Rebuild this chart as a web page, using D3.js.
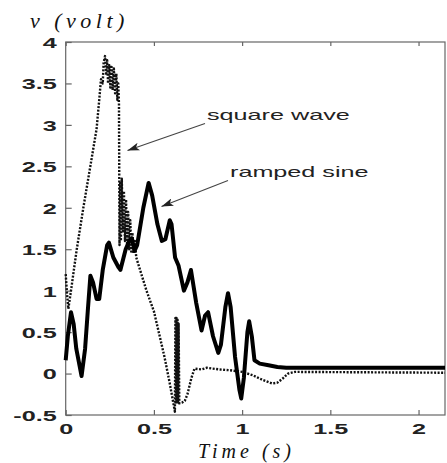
<!DOCTYPE html>
<html>
<head>
<meta charset="utf-8">
<script src="https://cdn.jsdelivr.net/npm/d3@7/dist/d3.min.js"></script>
<style>
html,body{margin:0;padding:0;background:#fff;}
svg{display:block;}
</style>
</head>
<body>
<svg id="chart" width="447" height="463"></svg>
<script>
// ---- data ----
const xTicks = [0, 0.5, 1, 1.5, 2];
const xTickLabels = ["0", "0.5", "1", "1.5", "2"];
const yTicks = [-0.5, 0, 0.5, 1, 1.5, 2, 2.5, 3, 3.5, 4];
const yTickLabels = ["-0.5", "0", "0.5", "1", "1.5", "2", "2.5", "3", "3.5", "4"];

// ramped sine (solid, thick)
const sineT = [0, 0.012, 0.03, 0.045, 0.06, 0.09, 0.11, 0.125, 0.14, 0.155, 0.175, 0.19, 0.21, 0.235, 0.245, 0.27, 0.3, 0.31, 0.34, 0.36, 0.375, 0.39, 0.405, 0.44, 0.47, 0.49, 0.52, 0.545, 0.565, 0.59, 0.6, 0.62, 0.64, 0.67, 0.69, 0.71, 0.74, 0.77, 0.79, 0.807, 0.835, 0.865, 0.88, 0.905, 0.92, 0.935, 0.96, 0.985, 0.995, 1.01, 1.03, 1.04, 1.055, 1.07, 1.1, 1.15, 1.2, 1.25, 2.15];
const sineV = [0.16, 0.45, 0.74, 0.6, 0.3, -0.03, 0.3, 0.75, 1.18, 1.1, 0.9, 0.9, 1.25, 1.55, 1.58, 1.4, 1.28, 1.25, 1.5, 1.6, 1.63, 1.48, 1.55, 2.0, 2.3, 2.15, 1.8, 1.6, 1.62, 1.85, 1.8, 1.4, 1.3, 1.0, 1.1, 1.25, 0.85, 0.52, 0.7, 0.74, 0.45, 0.25, 0.35, 0.8, 0.97, 0.8, 0.2, -0.2, -0.3, -0.05, 0.5, 0.63, 0.45, 0.16, 0.12, 0.1, 0.08, 0.07, 0.07];

// square wave (dotted)
const squareT = [0, 0.008, 0.015, 0.03, 0.062, 0.1, 0.138, 0.175, 0.19, 0.2, 0.21, 0.215, 0.223, 0.23, 0.235, 0.24, 0.247, 0.253, 0.26, 0.266, 0.273, 0.28, 0.287, 0.293, 0.298, 0.302, 0.305, 0.309, 0.313, 0.318, 0.324, 0.33, 0.336, 0.342, 0.348, 0.354, 0.36, 0.366, 0.372, 0.378, 0.385, 0.392, 0.4, 0.41, 0.458, 0.5, 0.534, 0.56, 0.59, 0.619, 0.622, 0.625, 0.628, 0.631, 0.634, 0.637, 0.64, 0.644, 0.66, 0.675, 0.69, 0.713, 0.73, 0.77, 0.8, 0.83, 0.87, 0.93, 1.0, 1.06, 1.12, 1.17, 1.2, 1.23, 1.26, 1.3, 2.15];
const squareV = [1.2, 0.95, 0.78, 1.0, 1.49, 2.0, 2.48, 2.95, 3.3, 3.55, 3.5, 3.75, 3.83, 3.6, 3.78, 3.5, 3.72, 3.45, 3.7, 3.42, 3.68, 3.38, 3.62, 3.3, 3.5, 3.25, 1.55, 2.3, 1.6, 2.35, 1.7, 2.2, 1.6, 2.1, 1.55, 1.95, 1.5, 1.85, 1.45, 1.7, 1.45, 1.6, 1.4, 1.33, 1.0, 0.75, 0.44, 0.2, -0.12, -0.46, 0.67, -0.35, 0.67, -0.35, 0.65, -0.35, 0.6, -0.36, -0.35, -0.33, -0.25, -0.05, 0.06, 0.05, 0.07, 0.06, 0.05, 0.04, 0.02, -0.02, -0.08, -0.12, -0.11, -0.06, 0.0, 0.02, 0.01];

const annoLabels = ["square wave", "ramped sine"];
const yTitle = "v (volt)";
const xTitle = "Time (s)";

// ---- layout ----
const svg = d3.select("#chart");
const L = 65.7, R = 445, T = 42, B = 415;
const x = d3.scaleLinear().domain([0, 2.15]).range([L, R]);
const y = d3.scaleLinear().domain([-0.5, 4]).range([B, T]);
const SX = 1.68;
const tickFont = "'Liberation Sans', Arial, sans-serif";

// frame
svg.append("rect").attr("x", L).attr("y", T).attr("width", R - L).attr("height", B - T)
  .attr("fill", "none").attr("stroke", "#666").attr("stroke-width", 1.2);

// bottom axis
const gx = svg.append("g").attr("transform", `translate(0,${B})`)
  .call(d3.axisBottom(x).tickValues(xTicks).tickSizeInner(-5).tickSizeOuter(0).tickFormat((d, i) => xTickLabels[i]));
gx.select(".domain").remove();
gx.selectAll("line").attr("stroke", "#666").attr("stroke-width", 1.2);
gx.selectAll("text").attr("y", 19).attr("dy", 0)
  .attr("transform", `scale(${SX},1)`)
  .style("font-family", tickFont).style("font-size", "15px").style("font-weight", "bold").attr("fill", "#222");

// top ticks
const gt = svg.append("g").attr("transform", `translate(0,${T})`)
  .call(d3.axisTop(x).tickValues(xTicks).tickSizeInner(-4).tickSizeOuter(0).tickFormat(""));
gt.select(".domain").remove();
gt.selectAll("line").attr("stroke", "#666").attr("stroke-width", 1.2);

// left axis
const gy = svg.append("g").attr("transform", `translate(${L},0)`)
  .call(d3.axisLeft(y).tickValues(yTicks).tickSizeInner(-6).tickSizeOuter(0).tickFormat((d, i) => yTickLabels[i]));
gy.select(".domain").remove();
gy.selectAll("line").attr("stroke", "#666").attr("stroke-width", 1.2);
gy.selectAll("text").attr("x", -9 / SX).attr("dy", "0.36em").attr("text-anchor", "end")
  .attr("transform", `scale(${SX},1)`)
  .style("font-family", tickFont).style("font-size", "15px").style("font-weight", "bold").attr("fill", "#222");

// lines
const sineData = sineT.map((t, i) => [t, sineV[i]]);
const squareData = squareT.map((t, i) => [t, squareV[i]]);
const line = d3.line().x(d => x(d[0])).y(d => y(d[1]));

svg.append("path").datum(squareData).attr("d", line)
  .attr("fill", "none").attr("stroke", "#111").attr("stroke-width", 2.4)
  .attr("stroke-dasharray", "2,1.5").attr("stroke-linejoin", "round");

svg.append("path").datum(sineData).attr("d", line)
  .attr("fill", "none").attr("stroke", "#000").attr("stroke-width", 4)
  .attr("stroke-linejoin", "round");

// annotations
const defs = svg.append("defs");
defs.append("marker").attr("id", "ah").attr("viewBox", "0 0 12 8").attr("refX", 12).attr("refY", 4)
  .attr("markerWidth", 12).attr("markerHeight", 8).attr("markerUnits", "userSpaceOnUse").attr("orient", "auto")
  .append("path").attr("d", "M0,0 L12,4 L0,8 L3,4 Z").attr("fill", "#222");

const annos = [
  {label: annoLabels[0], tx: 207, ty: 120, x1: 205, y1: 123.5, x2: 127.5, y2: 150.5},
  {label: annoLabels[1], tx: 230, ty: 177, x1: 228, y1: 180.5, x2: 161.5, y2: 206.5}
];
annos.forEach(a => {
  svg.append("line").attr("x1", a.x1).attr("y1", a.y1).attr("x2", a.x2).attr("y2", a.y2)
    .attr("stroke", "#444").attr("stroke-width", 1.1).attr("marker-end", "url(#ah)");
  svg.append("g").attr("transform", `translate(${a.tx},${a.ty}) scale(${SX},1)`)
    .append("text").text(a.label)
    .style("font-family", tickFont).style("font-size", "15px").attr("fill", "#222");
});

// titles
svg.append("text").attr("x", 30).attr("y", 28).text(yTitle)
  .style("font-family", "'Liberation Serif', 'Times New Roman', serif").style("font-style", "italic")
  .style("font-size", "22px").style("letter-spacing", "4.5px").attr("fill", "#111");
svg.append("text").attr("x", 198).attr("y", 458).text(xTitle)
  .style("font-family", "'Liberation Serif', 'Times New Roman', serif").style("font-style", "italic")
  .style("font-size", "20px").style("letter-spacing", "4px").attr("fill", "#111");
</script>
</body>
</html>
